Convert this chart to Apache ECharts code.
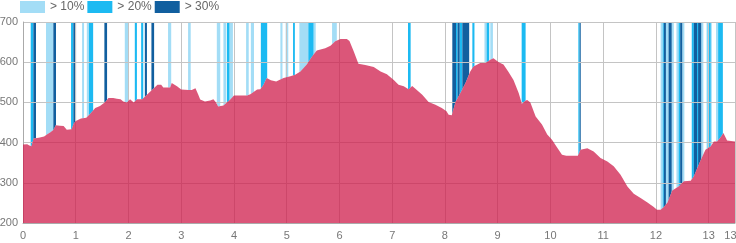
<!DOCTYPE html>
<html><head><meta charset="utf-8">
<script src="https://cdn.jsdelivr.net/npm/echarts@6/dist/echarts.min.js"></script>
<style>html,body{margin:0;padding:0;background:#fff}#c{width:736px;height:243px}</style>
</head><body><div id="c"></div>
<script>
// Elevation profile: distance (km) and elevation (m)
const distKm = [0,0.08,0.12,0.16,0.2,0.3,0.4,0.46,0.52,0.58,0.62,0.7,0.77,0.83,0.92,0.96,1.0,1.1,1.2,1.27,1.37,1.46,1.56,1.62,1.71,1.78,1.85,1.9,1.97,2.03,2.1,2.16,2.26,2.35,2.42,2.47,2.55,2.62,2.66,2.79,2.82,2.92,3.0,3.14,3.2,3.27,3.32,3.36,3.45,3.55,3.61,3.66,3.7,3.8,3.93,4.0,4.25,4.31,4.44,4.5,4.56,4.62,4.7,4.8,4.94,5.07,5.16,5.26,5.38,5.48,5.57,5.73,5.83,5.92,6.02,6.14,6.19,6.27,6.36,6.49,6.65,6.78,6.9,7.03,7.12,7.22,7.31,7.38,7.44,7.57,7.69,7.82,7.94,8.03,8.07,8.13,8.2,8.29,8.39,8.48,8.54,8.67,8.77,8.86,8.92,9.02,9.11,9.2,9.3,9.4,9.46,9.52,9.56,9.62,9.72,9.84,9.94,10.03,10.13,10.22,10.3,10.52,10.57,10.7,10.82,10.95,11.08,11.2,11.33,11.46,11.58,11.71,11.84,11.96,12.02,12.09,12.15,12.22,12.31,12.43,12.53,12.66,12.72,12.85,12.94,13.04,13.1,13.16,13.23,13.28,13.35,13.5];
const elevM = [395,396,393,391,410,412,415,421,426,432,443,442,441,432,433,447,454,460,462,471,486,491,501,511,511,509,508,502,500,508,500,508,508,519,528,534,544,544,537,537,548,540,532,531,531,535,520,507,502,505,508,500,490,492,507,517,517,520,532,533,544,561,555,552,561,565,569,577,594,614,629,635,641,652,658,658,653,627,596,593,588,577,570,556,544,540,533,541,534,519,501,494,486,478,469,468,501,523,548,577,589,598,598,606,610,600,594,577,556,523,496,504,506,500,465,445,420,407,387,370,367,367,382,386,378,362,353,341,320,291,273,262,251,240,233,233,240,251,281,291,304,305,316,357,382,391,403,403,414,424,405,403];

// Gradient bands [startKm, endKm]
const bands10 = [[0.436,0.575],[1.12,1.158],[1.21,1.25],[1.93,2.01],[2.75,2.81],[3.13,3.18],[3.675,3.74],[3.80,3.85],[3.915,3.98],[4.23,4.28],[4.32,4.38],[4.88,4.92],[4.98,5.03],[5.24,5.41],[5.51,5.55],[5.86,5.95],[8.75,8.79],[8.86,8.91],[12.09,12.13],[12.19,12.24],[12.30,12.34],[12.39,12.43],[12.50,12.54],[12.86,12.90],[12.96,12.98],[13.04,13.06],[13.14,13.18]];
const bands20 = [[0.146,0.196],[0.911,0.955],[1.25,1.33],[2.12,2.16],[2.24,2.28],[3.865,3.915],[4.51,4.63],[5.12,5.155],[5.41,5.51],[7.30,7.35],[8.21,8.24],[8.28,8.33],[8.52,8.56],[8.79,8.84],[9.455,9.53],[10.53,10.555],[12.13,12.15],[12.43,12.46],[12.68,12.72],[12.78,12.80],[12.98,13.04],[13.18,13.27]];
const bands30 = [[0.196,0.247],[0.575,0.626],[0.955,1.006],[1.543,1.594],[2.31,2.35],[2.435,2.486],[8.14,8.21],[8.24,8.28],[8.33,8.46],[10.555,10.575],[12.15,12.19],[12.24,12.30],[12.46,12.50],[12.72,12.78],[12.80,12.86]];

const legendNames = ['> 10%','> 20%','> 30%'];
const yTop = 700, yBottom = 200;

const profile = distKm.map((d,i)=>[d, elevM[i]]);

function bandSeries(name, data, color){
  return {
    name: name, type: 'custom', z: 0, silent: true,
    itemStyle: {color: color},
    data: data,
    renderItem: function(params, api){
      const p0 = api.coord([api.value(0), yTop]);
      const p1 = api.coord([api.value(1), yBottom]);
      return {type:'rect', shape:{x:p0[0], y:p0[1], width:Math.max(1,p1[0]-p0[0]), height:p1[1]-p0[1]}, style:{fill:color}};
    }
  };
}

const chart = echarts.init(document.getElementById('c'), null, {renderer:'canvas'});
chart.setOption({
  animation: false,
  legend: {
    left: 20, top: 1, padding: 0, itemGap: 3,
    itemWidth: 25, itemHeight: 12, icon: 'rect',
    data: legendNames,
    textStyle: {color:'#666', fontSize:12, fontFamily:'Liberation Sans, Arial, sans-serif'}
  },
  grid: {left: 23, right: 1, top: 22, bottom: 20, containLabel: false, outerBoundsMode: 'none'},
  xAxis: {
    type: 'value', min: 0, max: 13.5, interval: 1, z: 1,
    axisLine: {lineStyle:{color:'#aaa'}},
    axisTick: {show:false},
    axisLabel: {color:'#777', fontSize:11, margin:7, hideOverlap: false, fontFamily:'Liberation Sans, Arial, sans-serif'},
    splitLine: {show:true, lineStyle:{color:'#c4c4c4'}}
  },
  yAxis: {
    type: 'value', min: 200, max: 700, interval: 100, z: 1,
    axisLine: {show:true, lineStyle:{color:'#aaa'}},
    axisTick: {show:false},
    axisLabel: {color:'#777', fontSize:11, margin:5, fontFamily:'Liberation Sans, Arial, sans-serif'},
    splitLine: {show:true, lineStyle:{color:'#c4c4c4'}}
  },
  series: [
    bandSeries(legendNames[0], bands10, '#a3ddf6'),
    bandSeries(legendNames[1], bands20, '#1cbaf2'),
    bandSeries(legendNames[2], bands30, '#115f9f'),
    {
      type: 'line', z: 0, data: profile, symbol: 'none', silent: true,
      lineStyle: {width: 0, color:'#fff'},
      areaStyle: {color: '#ffffff', opacity: 1, origin: 'start'}
    },
    {
      type: 'line', z: 2, data: profile, symbol: 'none', silent: true,
      lineStyle: {width: 0, color:'rgb(207,30,76)'},
      areaStyle: {color: 'rgb(207,30,76)', opacity: 0.75, origin: 'start'}
    }
  ]
});
</script></body></html>
